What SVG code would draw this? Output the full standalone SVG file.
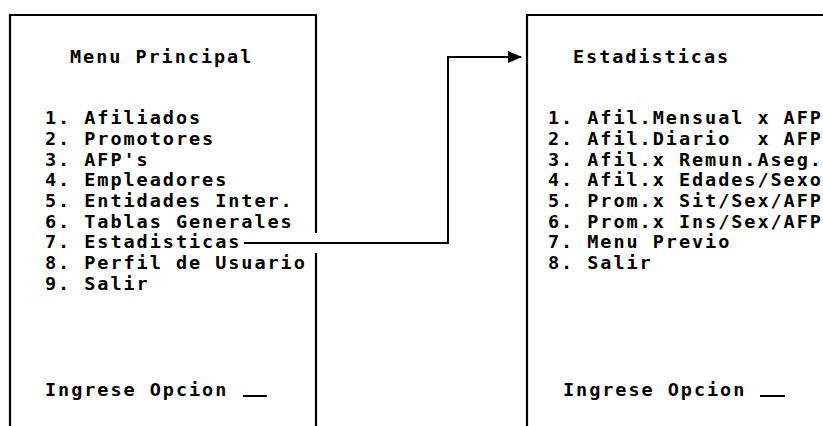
<svg xmlns="http://www.w3.org/2000/svg" width="823" height="426" viewBox="0 0 823 426">
<style>
.frame{fill:none;stroke:#000;stroke-width:2.2}
.t{font-family:"DejaVu Sans Mono","Liberation Mono",monospace;font-size:18.5px;font-weight:bold;letter-spacing:1.95px;fill:#000;white-space:pre}
.conn{fill:none;stroke:#000;stroke-width:2}
</style>
<defs>
<marker id="arr" markerWidth="14" markerHeight="12" refX="13" refY="6" orient="auto" markerUnits="userSpaceOnUse">
<path d="M0,0 L14,6 L0,12 Z" fill="#000"/>
</marker>
</defs>
<rect width="823" height="426" fill="#fff"/>
<g id="menu-principal">
<path class="frame" d="M10,430 V15 H316 V233 M316,253 V430"/>
<text class="t" x="70" y="63">Menu Principal</text>
<text class="t" x="45" y="124">1. Afiliados</text>
<text class="t" x="45" y="145">2. Promotores</text>
<text class="t" x="45" y="166">3. AFP's</text>
<text class="t" x="45" y="186">4. Empleadores</text>
<text class="t" x="45" y="207">5. Entidades Inter.</text>
<text class="t" x="45" y="228">6. Tablas Generales</text>
<text class="t" x="45" y="248">7. Estadisticas</text>
<text class="t" x="45" y="269">8. Perfil de Usuario</text>
<text class="t" x="45" y="290">9. Salir</text>
<text class="t" x="45" y="396">Ingrese Opcion</text>
<line x1="243" y1="396" x2="267" y2="396" stroke="#000" stroke-width="2"/>
</g>
<g id="estadisticas">
<path class="frame" d="M527,430 V15 H830"/>
<text class="t" x="573" y="63">Estadisticas</text>
<text class="t" x="548" y="124">1. Afil.Mensual x AFP</text>
<text class="t" x="548" y="145" xml:space="preserve">2. Afil.Diario  x AFP</text>
<text class="t" x="548" y="166">3. Afil.x Remun.Aseg.</text>
<text class="t" x="548" y="186">4. Afil.x Edades/Sexo</text>
<text class="t" x="548" y="207">5. Prom.x Sit/Sex/AFP</text>
<text class="t" x="548" y="228">6. Prom.x Ins/Sex/AFP</text>
<text class="t" x="548" y="248">7. Menu Previo</text>
<text class="t" x="548" y="269">8. Salir</text>
<text class="t" x="563" y="396">Ingrese Opcion</text>
<line x1="760" y1="396" x2="785" y2="396" stroke="#000" stroke-width="2"/>
</g>
<g id="connectors">
<path class="conn" d="M244,243 H448 V57 H521" marker-end="url(#arr)"/>
</g>
</svg>
